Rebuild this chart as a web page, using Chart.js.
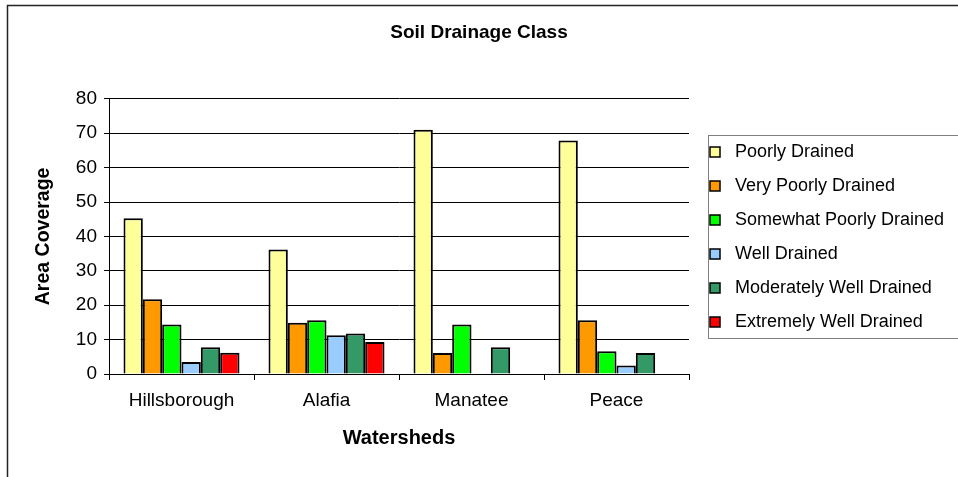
<!DOCTYPE html>
<html>
<head>
<meta charset="utf-8">
<title>Soil Drainage Class</title>
<script src="https://cdn.jsdelivr.net/npm/chart.js@4.4.1/dist/chart.umd.min.js"></script>
<style>
  html, body { margin: 0; padding: 0; background: #fff; }
  #mycanvas { display: block; }
</style>
</head>
<body>
<canvas id="mycanvas" width="958" height="477"></canvas>
<script>
var watersheds = ['Hillsborough', 'Alafia', 'Manatee', 'Peace'];
var drainageClasses = ['Poorly Drained', 'Very Poorly Drained', 'Somewhat Poorly Drained',
	'Well Drained', 'Moderately Well Drained', 'Extremely Well Drained'];

// area coverage per watershed, one array per drainage class
var poorly = [45.3, 36.2, 71.0, 67.9];
var veryPoorly = [21.7, 14.9, 6.1, 15.6];
var somewhatPoorly = [14.4, 15.6, 14.4, 6.6];
var well = [3.5, 11.3, null, 2.5];
var moderatelyWell = [7.8, 11.8, 7.8, 6.1];
var extremelyWell = [6.2, 9.3, null, null];

var classColors = ['#FFFF99', '#FF9900', '#00FF00', '#99CCFF', '#339966', '#FF0000'];
var seriesValues = [poorly, veryPoorly, somewhatPoorly, well, moderatelyWell, extremelyWell];

var font = "'Liberation Sans', Arial, sans-serif";

var datasets = [];
for (var i in drainageClasses) {
	datasets.push({
		label: drainageClasses[i],
		data: seriesValues[i],
		backgroundColor: classColors[i],
		borderColor: '#000',
		borderWidth: 2,
		yAxisID: 'y'
	});
}

// outer frame plus the boxed legend on the right
var framePlugin = {
	id: 'frameAndLegend',
	afterDraw: function(chart) {
		var ctx = chart.ctx;
		ctx.save();
		ctx.strokeStyle = '#222';
		ctx.lineWidth = 1.5;
		ctx.beginPath();
		ctx.moveTo(7.5, 477);
		ctx.lineTo(7.5, 5.5);
		ctx.lineTo(958, 5.5);
		ctx.stroke();

		ctx.strokeStyle = '#808080';
		ctx.lineWidth = 1;
		ctx.strokeRect(708.5, 135.5, 260, 203);

		ctx.font = '18px ' + font;
		ctx.textBaseline = 'middle';
		ctx.textAlign = 'left';
		chart.data.datasets.forEach(function(ds, k) {
			var y = 152 + k * 34;
			ctx.fillStyle = ds.backgroundColor;
			ctx.fillRect(710, y - 5, 10, 10);
			ctx.strokeStyle = '#000';
			ctx.lineWidth = 1.5;
			ctx.strokeRect(710, y - 5, 10, 10);
			ctx.fillStyle = '#000';
			ctx.fillText(ds.label, 735, y);
		});
		ctx.restore();
	}
};

var ctx = document.getElementById('mycanvas');

var barGraph = new Chart(ctx, {
	type: 'bar',
	data: {
		labels: watersheds,
		datasets: datasets
	},
	options: {
		responsive: false,
		animation: false,
		devicePixelRatio: 1,
		layout: { padding: 0 },
		datasets: {
			bar: { categoryPercentage: 0.8, barPercentage: 1.0 }
		},
		plugins: {
			legend: { display: false },
			tooltip: { enabled: false },
			title: {
				display: true,
				text: 'Soil Drainage Class',
				color: '#000',
				font: { family: font, size: 19, weight: 'bold' },
				padding: { top: 21, bottom: 55 }
			}
		},
		scales: {
			x: {
				grid: { drawOnChartArea: false, color: '#000', tickLength: 6 },
				border: { color: '#000', width: 1 },
				ticks: { color: '#000', font: { family: font, size: 19 }, padding: 9 },
				title: {
					display: true,
					text: 'Watersheds',
					color: '#000',
					font: { family: font, size: 20, weight: 'bold' },
					padding: { top: 0, bottom: 27 }
				},
				afterFit: function(scale) { scale.height = 103; }
			},
			y: {
				min: 0,
				max: 80,
				ticks: { stepSize: 10, color: '#000', font: { family: font, size: 19 }, padding: 7 },
				grid: { color: '#000', tickLength: 5 },
				border: { color: '#000', width: 1 },
				title: {
					display: true,
					text: 'Area Coverage',
					color: '#000',
					font: { family: font, size: 19.5, weight: 'bold' },
					padding: { top: 32, bottom: 0 }
				},
				afterFit: function(scale) { scale.width = 109; }
			},
			// keeps room on the right for the legend box
			legendSpace: {
				type: 'linear',
				position: 'right',
				display: true,
				ticks: { display: false },
				grid: { display: false },
				border: { display: false },
				afterFit: function(scale) { scale.width = 269; }
			}
		}
	},
	plugins: [framePlugin]
});
</script>
</body>
</html>
